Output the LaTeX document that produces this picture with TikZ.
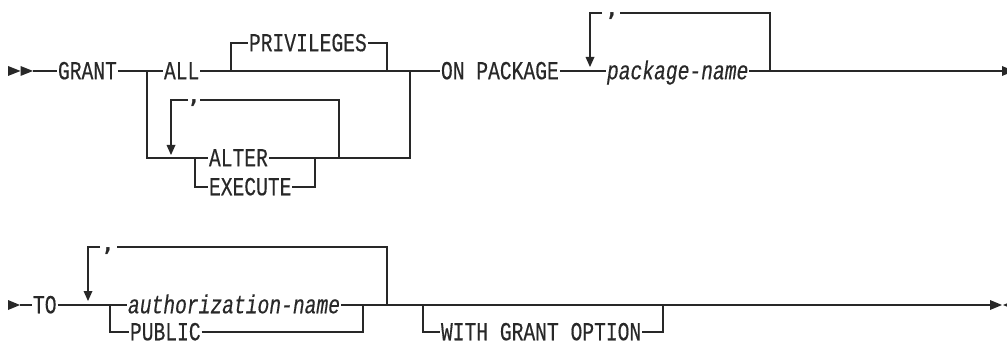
\documentclass[tikz,border=0pt]{standalone}
\usepackage{fontspec}
\newfontfamily\rrfont[FakeStretch=0.755,FakeBold=0.4]{Liberation Mono}
\newfontfamily\sepfont{DejaVu Sans Mono}
\definecolor{lc}{RGB}{40,40,40}
\tikzset{
  rail/.style={line width=1.2pt, draw=lc},
  kw/.style={anchor=west, inner xsep=0.8pt, inner ysep=0pt, text height=16.5pt, text depth=0pt,
    text=lc, font=\rrfont\fontsize{26}{28}\selectfont},
  var/.style={kw, font=\rrfont\itshape\fontsize{26}{28}\selectfont},
  sep/.style={anchor=base, inner sep=0pt, text height=4pt, text depth=5pt, text=lc,
    font=\sepfont\bfseries\fontsize{22}{24}\selectfont},
  tip/.style={fill=lc, draw=none},
}
\begin{document}
\begin{tikzpicture}[x=1pt, y=-1pt]
\useasboundingbox (0,0) rectangle (1007,342);

% ---------------- row 1 ----------------
\node[kw]  (grant)  at (57,71)  {GRANT};
\node[kw]  (all)    at (163,71) {ALL};
\node[kw]  (priv)   at (248,43) {PRIVILEGES};
\node[kw]  (alter)  at (208,158) {ALTER};
\node[kw]  (exec)   at (208,187) {EXECUTE};
\node[sep] (c1)     at (194,104) {,};
\node[kw]  (onpkg)  at (440,71) {ON PACKAGE};
\node[var] (pkg)    at (606,71) {package-name};
\node[sep] (c2)     at (612,17) {,};

\coordinate (s1) at (33,71);
\coordinate (j1) at (147,71);
\coordinate (p1) at (231,71);
\coordinate (p2) at (387,71);
\coordinate (j2) at (410,71);
\coordinate (b1) at (195,158);
\coordinate (b2) at (315,158);
\coordinate (r1) at (339,158);
\coordinate (c1r) at (200,100);
\coordinate (c1l) at (188,100);
\coordinate (a1) at (171,145);
\coordinate (r2) at (770,71);
\coordinate (c2r) at (620,13);
\coordinate (c2l) at (602,13);
\coordinate (a2) at (590,57);
\coordinate (e1) at (1002,71);

% start marker
\fill[tip] (8,66) -- (20.5,71) -- (8,76) -- cycle;
\fill[tip] (20.5,66) -- (33,71) -- (20.5,76) -- cycle;

\draw[rail] (s1) -- (grant.west);
\draw[rail] (grant.east) -- (all.west);
\draw[rail] (j1) |- (alter.west);
\draw[rail] (all.east) -- (onpkg.west);
\draw[rail] (p1) |- (priv.west);
\draw[rail] (priv.east) -| (p2);
\draw[rail] (alter.east) -| (j2);
\draw[rail] (b1) |- (exec.west);
\draw[rail] (exec.east) -| (b2);
\draw[rail] (r1) |- (c1r);
\draw[rail] (c1l) -| (a1);
\fill[tip] (166.5,145) -- (175.5,145) -- (171,155) -- cycle;

\draw[rail] (onpkg.east) -- (pkg.west);
\draw[rail] (pkg.east) -- (e1);
\draw[rail] (r2) |- (c2r);
\draw[rail] (c2l) -| (a2);
\fill[tip] (585.5,57) -- (594.5,57) -- (590,67) -- cycle;
\fill[tip] (1002,66) -- (1014,71) -- (1002,76) -- cycle;

% ---------------- row 2 ----------------
\node[kw]  (to)     at (32,305)  {TO};
\node[var] (auth)   at (127,305) {authorization-name};
\node[kw]  (public) at (129,332) {PUBLIC};
\node[kw]  (wgo)    at (440,332) {WITH GRANT OPTION};
\node[sep] (c3)     at (108,251) {,};

\coordinate (s2) at (20,305);
\coordinate (k1) at (110,305);
\coordinate (k2) at (363,305);
\coordinate (r3) at (387,305);
\coordinate (c3r) at (117,247);
\coordinate (c3l) at (100,247);
\coordinate (a3) at (88,291);
\coordinate (w1) at (423,305);
\coordinate (w2) at (663,305);
\coordinate (e2) at (990,305);

\fill[tip] (8,300) -- (20,305) -- (8,310) -- cycle;
\draw[rail] (s2) -- (to.west);
\draw[rail] (to.east) -- (auth.west);
\draw[rail] (k1) |- (public.west);
\draw[rail] (public.east) -| (k2);
\draw[rail] (auth.east) -- (e2);
\draw[rail] (r3) |- (c3r);
\draw[rail] (c3l) -| (a3);
\fill[tip] (83.5,291) -- (92.5,291) -- (88,301) -- cycle;
\draw[rail] (w1) |- (wgo.west);
\draw[rail] (wgo.east) -| (w2);
\fill[tip] (990,300) -- (1002,305) -- (990,310) -- cycle;
\fill[tip] (1015,300) -- (1003,305) -- (1015,310) -- cycle;
\end{tikzpicture}
\end{document}
